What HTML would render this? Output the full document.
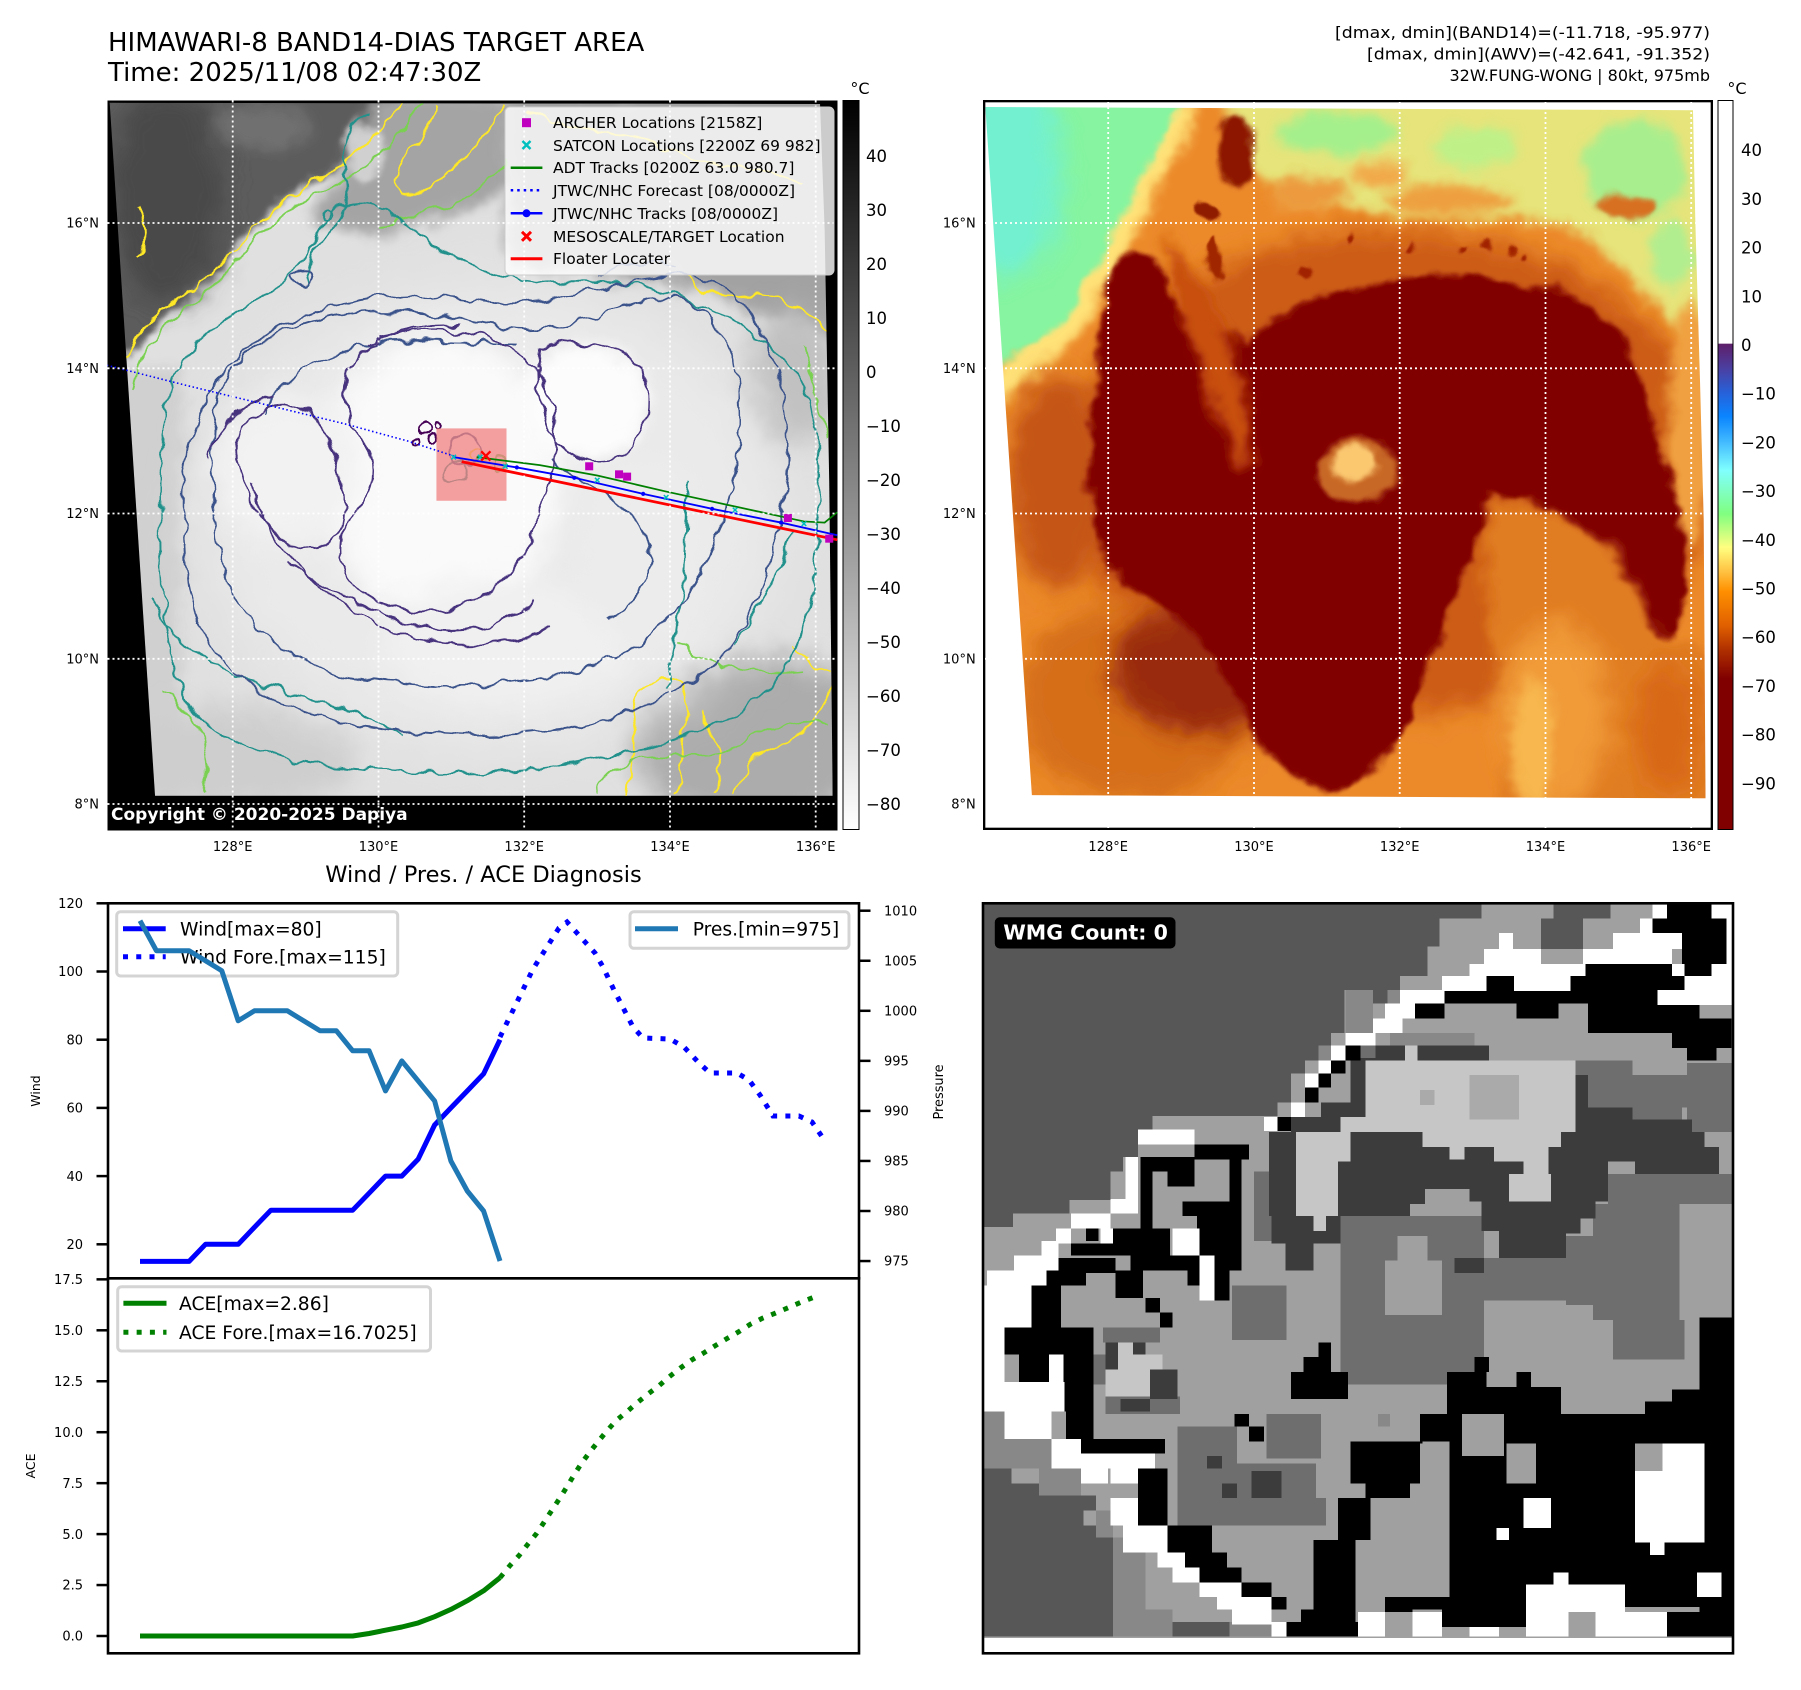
<!DOCTYPE html>
<html><head><meta charset="utf-8">
<style>
html,body{margin:0;padding:0;background:#fff;}
svg{display:block;}
text{font-family:"DejaVu Sans","Liberation Sans",sans-serif;}
</style></head>
<body>
<svg width="1801" height="1690" viewBox="0 0 1801 1690" xmlns="http://www.w3.org/2000/svg">
<defs>
  <linearGradient id="cb1" x1="0" y1="0" x2="0" y2="1">
    <stop offset="0" stop-color="#000"/><stop offset="1" stop-color="#fff"/>
  </linearGradient>
  <linearGradient id="cb2" x1="0" y1="0" x2="0" y2="1">
    <stop offset="0" stop-color="#fff"/>
    <stop offset="0.333" stop-color="#fff"/>
    <stop offset="0.334" stop-color="#5e1f6a"/>
    <stop offset="0.367" stop-color="#4b3fa0"/>
    <stop offset="0.40" stop-color="#2860d8"/>
    <stop offset="0.433" stop-color="#0a84ff"/>
    <stop offset="0.467" stop-color="#40b8ff"/>
    <stop offset="0.507" stop-color="#80ffff"/>
    <stop offset="0.567" stop-color="#80ff80"/>
    <stop offset="0.613" stop-color="#ffff80"/>
    <stop offset="0.647" stop-color="#ffc040"/>
    <stop offset="0.673" stop-color="#ff9000"/>
    <stop offset="0.72" stop-color="#e06000"/>
    <stop offset="0.753" stop-color="#b03000"/>
    <stop offset="0.793" stop-color="#800000"/>
    <stop offset="1" stop-color="#800000"/>
  </linearGradient>
  <filter id="f3" x="-20%" y="-20%" width="140%" height="140%"><feGaussianBlur stdDeviation="3"/></filter>
  <filter id="f6" x="-20%" y="-20%" width="140%" height="140%"><feGaussianBlur stdDeviation="6"/></filter>
  <filter id="f12" x="-30%" y="-30%" width="160%" height="160%"><feGaussianBlur stdDeviation="12"/></filter>
  <filter id="f25" x="-40%" y="-40%" width="180%" height="180%"><feGaussianBlur stdDeviation="25"/></filter>
  <clipPath id="cw"><rect x="108" y="903.3" width="751" height="375"/></clipPath>
  <clipPath id="ca"><rect x="108" y="1278.3" width="751" height="375"/></clipPath>
</defs>

<!-- ===== Titles ===== -->
<text x="108" y="51" font-size="26" fill="#000">HIMAWARI-8 BAND14-DIAS TARGET AREA</text>
<text x="108" y="81" font-size="26" fill="#000">Time: 2025/11/08 02:47:30Z</text>
<text x="1710" y="38" font-size="16" text-anchor="end" textLength="375" lengthAdjust="spacingAndGlyphs">[dmax, dmin](BAND14)=(-11.718, -95.977)</text>
<text x="1710" y="59.5" font-size="16" text-anchor="end" textLength="343" lengthAdjust="spacingAndGlyphs">[dmax, dmin](AWV)=(-42.641, -91.352)</text>
<text x="1710" y="81" font-size="16" text-anchor="end">32W.FUNG-WONG | 80kt, 975mb</text>

<!-- ===== MAP 1 ===== -->
<svg x="107.5" y="100.5" width="730" height="730" viewBox="93.6 87.5 635.6 635.6">
  <defs>
    <clipPath id="m1c"><polygon points="95.5,89.5 714,90.5 718,200 722,420 725,693 135,693"/></clipPath>
    <filter id="wigA" x="-5%" y="-5%" width="110%" height="110%">
      <feTurbulence type="fractalNoise" baseFrequency="0.035" numOctaves="3" seed="4" result="n"/>
      <feDisplacementMap in="SourceGraphic" in2="n" scale="18" xChannelSelector="R" yChannelSelector="G"/>
    </filter>
    <filter id="wigC" x="-5%" y="-5%" width="110%" height="110%">
      <feTurbulence type="fractalNoise" baseFrequency="0.06" numOctaves="2" seed="7" result="n"/>
      <feDisplacementMap in="SourceGraphic" in2="n" scale="12" xChannelSelector="R" yChannelSelector="G"/>
    </filter>
  </defs>
  <rect x="93.6" y="87.5" width="635.6" height="635.6" fill="#000"/>
  <g clip-path="url(#m1c)">
   <g filter="url(#wigA)">
    <rect x="80" y="75" width="660" height="640" fill="#e0e0e0"/>
    <path d="M80,75 L355,75 C338,108 315,128 295,145 C272,162 255,165 240,180 C222,198 205,215 190,235 C170,258 150,272 130,290 C118,302 108,318 80,340 Z" fill="#5c5c5c" filter="url(#f3)"/>
    <ellipse cx="145" cy="170" rx="50" ry="95" fill="#4a4a4a" filter="url(#f12)"/>
    <ellipse cx="230" cy="110" rx="40" ry="20" fill="#707070" filter="url(#f6)"/>
    <path d="M330,80 L445,80 L445,165 C420,178 385,188 352,200 C320,210 292,200 270,188 C290,160 312,130 330,80 Z" fill="#a4a4a4" filter="url(#f6)"/>
    <path d="M440,80 L740,80 L740,300 C700,290 660,270 620,255 C560,245 500,240 445,230 Z" fill="#a2a2a2" filter="url(#f6)"/>
    <ellipse cx="318" cy="132" rx="15" ry="24" fill="#d0d0d0" filter="url(#f3)"/>
    <rect x="100" y="320" width="60" height="380" fill="#d0d0d0" filter="url(#f6)"/>
    <ellipse cx="660" cy="645" rx="110" ry="75" fill="#acacac" filter="url(#f12)"/>
    <ellipse cx="210" cy="660" rx="100" ry="45" fill="#cecece" filter="url(#f12)"/>
    <ellipse cx="690" cy="330" rx="40" ry="60" fill="#c0c0c0" filter="url(#f12)"/>
    <ellipse cx="430" cy="450" rx="250" ry="200" fill="#eaeaea" filter="url(#f25)"/>
    <ellipse cx="385" cy="415" rx="105" ry="125" fill="#fafafa" filter="url(#f12)"/>
    <ellipse cx="510" cy="350" rx="55" ry="50" fill="#fcfcfc" filter="url(#f6)"/>
    <ellipse cx="250" cy="410" rx="65" ry="65" fill="#f2f2f2" filter="url(#f12)"/>
    <ellipse cx="440" cy="560" rx="110" ry="55" fill="#f0f0f0" filter="url(#f12)"/>
    <ellipse cx="560" cy="480" rx="55" ry="85" fill="#ececec" filter="url(#f12)"/>
   </g>
    <g fill="none" stroke-width="1.7" stroke-linejoin="round" filter="url(#wigC)">
      <g stroke="#fde725">
        <path d="M350,90 C340,105 330,115 320,125 C305,140 290,150 275,158 C255,168 240,182 225,195 C208,212 195,228 180,242 C165,255 148,265 135,278 C122,290 112,305 105,320"/>
        <path d="M380,92 C375,110 365,125 355,135 C345,145 340,160 350,168 C365,172 380,160 390,150 C405,135 420,120 430,105 C435,98 438,92 440,90"/>
        <path d="M600,240 C610,255 625,262 640,258 C660,252 680,262 700,270 C712,276 720,290 725,300"/>
        <path d="M545,693 C548,670 556,650 552,630 C548,610 560,595 575,590 C590,588 600,600 598,615 C596,630 590,650 592,670 C594,680 590,690 588,693"/>
        <path d="M640,693 C645,670 660,655 680,648 C700,640 715,620 724,600"/>
        <path d="M100,640 C110,650 115,665 112,693"/>
        <path d="M460,95 C500,120 540,110 580,130 C620,150 660,140 700,160"/>
        <path d="M690,560 C700,575 710,580 722,585"/>
        <path d="M120,180 C130,200 128,215 118,225"/>
        <path d="M610,620 C620,640 630,660 625,690"/>
      </g>
      <g stroke="#7ad151">
        <path d="M365,90 C355,110 340,125 325,138 C305,152 290,165 270,172 C250,182 235,198 220,212 C205,228 190,245 175,258 C160,270 145,282 135,295 C125,308 118,322 115,340"/>
        <path d="M520,693 C525,675 540,665 560,660 C590,655 620,665 640,650 C660,635 690,625 722,630"/>
        <path d="M140,600 C160,610 175,630 180,660 C182,675 178,690 180,693"/>
        <path d="M700,300 C705,330 715,360 722,380"/>
        <path d="M330,200 C350,185 380,185 400,175 C420,165 435,150 440,140"/>
        <path d="M590,560 C620,580 660,590 700,585"/>
      </g>
      <g stroke="#21918c">
        <path d="M150,330 C170,290 210,270 240,250 C270,230 275,200 290,185 C310,170 340,180 360,200 C385,222 420,240 460,244 C500,248 540,240 580,255 C620,270 660,285 690,320 C715,350 715,420 712,470 C708,540 690,590 650,615 C610,640 560,655 500,665 C440,675 370,675 300,668 C240,662 190,650 165,615 C145,585 140,520 140,460 C140,400 140,360 150,330 Z"/>
        <path d="M270,250 C265,230 270,215 285,205 C300,195 305,170 300,150 C295,125 305,105 320,100"/>
        <path d="M600,420 C595,450 598,480 595,510 C592,540 585,570 580,600"/>
        <path d="M282,185 C288,180 292,188 286,192 C280,194 278,188 282,185 Z"/>
        <path d="M130,520 C150,560 190,590 240,600 C280,610 320,620 350,640"/>
        <path d="M640,560 C660,530 680,500 690,460"/>
      </g>
      <g stroke="#3b528b">
        <path d="M190,345 C205,305 240,285 290,275 C340,265 390,275 440,285 C480,292 520,275 560,262 C600,252 630,275 640,320 C650,370 640,430 620,480 C600,530 560,570 500,585 C440,600 370,600 310,590 C260,580 220,555 200,510 C185,470 180,400 190,345 Z"/>
        <path d="M230,360 C250,320 300,300 340,298 C380,296 420,300 450,300"/>
        <path d="M480,400 C500,420 540,430 560,460 C575,490 560,520 530,540"/>
        <path d="M160,460 C155,400 170,340 220,300 C270,260 350,250 420,262 C480,270 540,240 600,240 C650,245 680,300 685,370 C690,440 670,520 630,570 C580,620 500,640 420,640 C340,640 260,630 210,590 C170,560 162,510 160,460 Z"/>
        <path d="M520,240 C540,230 570,225 590,232"/>
        <path d="M255,240 C265,232 275,236 272,246 C268,254 256,250 255,240 Z"/>
      </g>
      <g stroke="#46327e">
        <path d="M300,335 C305,300 345,285 390,288 C430,291 460,305 475,335 C488,365 485,410 470,450 C458,490 430,520 395,530 C360,538 325,528 305,505 C290,485 295,460 310,445 C325,430 330,410 320,390 C305,370 298,355 300,335 Z"/>
        <path d="M205,385 C215,355 245,345 265,358 C285,372 300,405 300,440 C300,470 280,485 258,475 C238,465 222,445 212,420 C207,408 204,395 205,385 Z"/>
        <path d="M470,305 C495,292 530,298 555,318 C572,338 565,380 545,395 C525,408 495,402 482,382 C472,365 465,330 470,305 Z"/>
        <path d="M250,490 C280,510 320,530 360,545 C400,555 440,545 465,525"/>
        <path d="M220,420 C230,470 270,510 320,540 C370,565 430,570 480,545"/>
        <path d="M180,400 C190,370 210,350 240,345"/>
        <path d="M320,300 C340,290 370,282 400,283"/>
      </g>
      <g stroke="#440154">
        <circle cx="368" cy="374" r="5"/><circle cx="376" cy="382" r="4"/><circle cx="362" cy="384" r="3"/>
        <circle cx="380" cy="370" r="3"/>
      </g>
      <circle cx="395" cy="410" r="10" stroke="#21918c"/>
      <circle cx="415" cy="396" r="6" stroke="#fde725"/>
      <circle cx="436" cy="404" r="7" stroke="#5ec962"/>
      <circle cx="405" cy="392" r="13" stroke="#3b528b"/>
    </g>
  </g>
  <rect x="380" y="373" width="61" height="63" fill="#f08080" opacity="0.75"/>
  <polyline points="93,318 160,335 230,352 300,369 355,384 395,397" fill="none" stroke="#0000ff" stroke-width="1.4" stroke-dasharray="1.3 2.2"/>
  <polyline points="415,398 470,405 520,414 580,428 640,441 700,454 718,455 729,446" fill="none" stroke="#008000" stroke-width="1.5"/>
  <polyline points="395,398 450,407 500,416 560,430 620,443 680,455 729,466" fill="none" stroke="#0000ff" stroke-width="1.6"/>
  <g fill="#0000ff"><circle cx="450" cy="407" r="1.8"/><circle cx="500" cy="416" r="1.8"/><circle cx="560" cy="430" r="1.8"/><circle cx="620" cy="443" r="1.8"/><circle cx="680" cy="455" r="1.8"/></g>
  <line x1="402" y1="402" x2="729" y2="470" stroke="#ff0000" stroke-width="2.4"/>
  <g stroke="#00bfbf" stroke-width="1.3">
    <path d="M393,396 l4,4 M397,396 l-4,4 M416,396 l4,4 M420,396 l-4,4 M438,404 l4,4 M442,404 l-4,4 M518,416 l4,4 M522,416 l-4,4 M578,431 l4,4 M582,431 l-4,4 M638,442 l4,4 M642,442 l-4,4 M698,454 l4,4 M702,454 l-4,4"/>
  </g>
  <path d="M419,393 l8,8 M427,393 l-8,8" stroke="#ff0000" stroke-width="2"/>
  <g fill="#bf00bf">
    <rect x="509.5" y="402.5" width="7" height="7"/><rect x="535.5" y="409.5" width="7" height="7"/>
    <rect x="542.5" y="411.5" width="7" height="7"/><rect x="682.5" y="447.5" width="7" height="7"/>
    <rect x="718.5" y="465.5" width="7" height="7"/>
  </g>
</svg>
<g stroke="#fff" stroke-width="1.8" stroke-dasharray="2 3">
  <line x1="232.7" y1="100.5" x2="232.7" y2="830"/><line x1="378.5" y1="100.5" x2="378.5" y2="830"/>
  <line x1="524.2" y1="100.5" x2="524.2" y2="830"/><line x1="670" y1="100.5" x2="670" y2="830"/>
  <line x1="815.7" y1="100.5" x2="815.7" y2="830"/>
  <line x1="107.5" y1="223" x2="837" y2="223"/><line x1="107.5" y1="368.3" x2="837" y2="368.3"/>
  <line x1="107.5" y1="513.5" x2="837" y2="513.5"/><line x1="107.5" y1="658.8" x2="837" y2="658.8"/>
  <line x1="107.5" y1="804" x2="837" y2="804"/>
</g>
<rect x="505" y="107" width="329" height="168" rx="5" fill="#fff" fill-opacity="0.8" stroke="#cccccc" stroke-width="1"/>
<rect x="522" y="118.2" width="9" height="9" fill="#bf00bf"/>
<path d="M522.5,141 l8,8 M530.5,141 l-8,8" stroke="#00bfbf" stroke-width="2.5"/>
<line x1="510.7" y1="167.7" x2="542.4" y2="167.7" stroke="#008000" stroke-width="2.5"/>
<line x1="510.7" y1="190.3" x2="542.4" y2="190.3" stroke="#0000ff" stroke-width="2.5" stroke-dasharray="2.5 4"/>
<line x1="510.7" y1="213.3" x2="542.4" y2="213.3" stroke="#0000ff" stroke-width="2.5"/>
<circle cx="526.5" cy="213.3" r="4" fill="#0000ff"/>
<path d="M522,231.8 l9,9 M531,231.8 l-9,9" stroke="#ff0000" stroke-width="3"/>
<line x1="510.7" y1="258.7" x2="542.4" y2="258.7" stroke="#ff0000" stroke-width="3"/>
<g font-size="15.5" fill="#000">
  <text x="553" y="128.2">ARCHER Locations [2158Z]</text>
  <text x="553" y="150.8">SATCON Locations [2200Z 69 982]</text>
  <text x="553" y="173.2">ADT Tracks [0200Z 63.0 980.7]</text>
  <text x="553" y="195.8">JTWC/NHC Forecast [08/0000Z]</text>
  <text x="553" y="218.8">JTWC/NHC Tracks [08/0000Z]</text>
  <text x="553" y="241.8">MESOSCALE/TARGET Location</text>
  <text x="553" y="264.2">Floater Locater</text>
</g>
<text x="111" y="820" font-size="17" font-weight="bold" fill="#fff">Copyright © 2020-2025 Dapiya</text>

<g font-size="13" fill="#000">
  <text x="99" y="227.5" text-anchor="end">16°N</text>
  <text x="99" y="372.8" text-anchor="end">14°N</text>
  <text x="99" y="518" text-anchor="end">12°N</text>
  <text x="99" y="663.3" text-anchor="end">10°N</text>
  <text x="99" y="808.5" text-anchor="end">8°N</text>
  <text x="232.7" y="851" text-anchor="middle">128°E</text>
  <text x="378.5" y="851" text-anchor="middle">130°E</text>
  <text x="524.2" y="851" text-anchor="middle">132°E</text>
  <text x="670" y="851" text-anchor="middle">134°E</text>
  <text x="815.7" y="851" text-anchor="middle">136°E</text>
  <text x="975.7" y="227.5" text-anchor="end">16°N</text>
  <text x="975.7" y="372.8" text-anchor="end">14°N</text>
  <text x="975.7" y="518" text-anchor="end">12°N</text>
  <text x="975.7" y="663.3" text-anchor="end">10°N</text>
  <text x="975.7" y="808.5" text-anchor="end">8°N</text>
  <text x="1108.2" y="851" text-anchor="middle">128°E</text>
  <text x="1254" y="851" text-anchor="middle">130°E</text>
  <text x="1399.7" y="851" text-anchor="middle">132°E</text>
  <text x="1545.5" y="851" text-anchor="middle">134°E</text>
  <text x="1691.2" y="851" text-anchor="middle">136°E</text>
</g>

<rect x="843" y="100.5" width="16" height="729" fill="url(#cb1)" stroke="#000" stroke-width="1"/>
<text x="860" y="94" font-size="16" text-anchor="middle">°C</text>
<g font-size="16.5" fill="#000">
  <text x="866" y="162">40</text><text x="866" y="216">30</text><text x="866" y="270">20</text>
  <text x="866" y="324">10</text><text x="866" y="378">0</text><text x="866" y="432">−10</text>
  <text x="866" y="486">−20</text><text x="866" y="540">−30</text><text x="866" y="594">−40</text>
  <text x="866" y="648">−50</text><text x="866" y="702">−60</text><text x="866" y="756">−70</text>
  <text x="866" y="810">−80</text>
</g>

<!-- ===== MAP 2 ===== -->
<svg x="983" y="100" width="730" height="730" viewBox="0 0 1568 1568">
  <defs>
    <clipPath id="m2c"><polygon points="5,15 1525,22 1530,260 1540,600 1548,900 1552,1500 105,1493"/></clipPath>
    <filter id="wig2" x="-5%" y="-5%" width="110%" height="110%">
      <feTurbulence type="fractalNoise" baseFrequency="0.014" numOctaves="3" seed="11" result="n"/>
      <feDisplacementMap in="SourceGraphic" in2="n" scale="45" xChannelSelector="R" yChannelSelector="G"/>
    </filter>
  </defs>
  <rect x="0" y="0" width="1568" height="1568" fill="#fff"/>
  <g clip-path="url(#m2c)">
   <g filter="url(#wig2)">
    <rect x="-60" y="-60" width="1690" height="1690" fill="#ec8a2a"/>
    <ellipse cx="880" cy="800" rx="700" ry="520" fill="#cc5c14" filter="url(#f25)"/>
    <!-- top band -->
    <path d="M440,-60 L1620,-60 L1620,650 C1530,560 1500,480 1440,430 C1380,380 1330,300 1250,270 C1150,250 1000,260 900,250 C800,240 700,220 620,200 C580,180 560,100 540,40 Z" fill="#e6e47a" filter="url(#f12)"/>
    <ellipse cx="760" cy="70" rx="130" ry="50" fill="#a4f08c" filter="url(#f12)"/>
    <ellipse cx="1060" cy="100" rx="90" ry="45" fill="#bff088" filter="url(#f12)"/>
    <ellipse cx="1400" cy="150" rx="110" ry="110" fill="#a8ee8e" filter="url(#f12)"/>
    <ellipse cx="1480" cy="330" rx="45" ry="70" fill="#b0ee90" filter="url(#f12)"/>
    <ellipse cx="700" cy="200" rx="90" ry="35" fill="#ec9a3c" filter="url(#f12)"/>
    <ellipse cx="1000" cy="215" rx="140" ry="35" fill="#eea040" filter="url(#f12)"/>
    <ellipse cx="850" cy="160" rx="60" ry="25" fill="#f2a848" filter="url(#f12)"/>
    <ellipse cx="1380" cy="230" rx="60" ry="30" fill="#d87020" filter="url(#f6)"/>
    <!-- right edge orange-yellow -->
    <ellipse cx="1520" cy="700" rx="50" ry="260" fill="#f0a040" filter="url(#f12)"/>
    <!-- green top-left -->
    <path d="M0,640 C80,580 150,520 200,450 C240,380 280,300 320,220 C350,150 400,60 440,0" fill="none" stroke="#ffe278" stroke-width="70" filter="url(#f12)"/>
    <path d="M-60,-60 L445,-60 L445,0 C420,30 390,70 360,130 C330,200 300,250 270,300 C240,360 215,420 170,470 C130,520 80,560 -60,600 Z" fill="#86f4a0" filter="url(#f6)"/>
    <ellipse cx="60" cy="160" rx="110" ry="220" fill="#6ff0d8" opacity="0.85" filter="url(#f25)"/>
    <ellipse cx="545" cy="110" rx="40" ry="75" fill="#8c1800" filter="url(#f6)"/>
    <ellipse cx="478" cy="245" rx="22" ry="22" fill="#901a00" filter="url(#f3)"/>
    <ellipse cx="500" cy="340" rx="15" ry="45" fill="#a02800" filter="url(#f3)"/>
    <g fill="#a02000" filter="url(#f3)">
      <circle cx="790" cy="300" r="10"/><circle cx="920" cy="310" r="9"/><circle cx="1030" cy="315" r="9"/>
      <circle cx="1080" cy="310" r="11"/><circle cx="1130" cy="322" r="9"/><circle cx="1160" cy="340" r="8"/>
      <circle cx="690" cy="370" r="14"/>
    </g>
    <ellipse cx="160" cy="820" rx="110" ry="230" fill="#c45412" filter="url(#f25)"/>
    <ellipse cx="330" cy="1290" rx="260" ry="220" fill="#d06818" opacity="0.8" filter="url(#f25)"/>
    <!-- dark brown bottom-left of core -->
    <ellipse cx="470" cy="1220" rx="190" ry="140" fill="#9a2a08" filter="url(#f25)"/>
    <!-- dark core -->
    <path d="M262,420 C265,360 300,320 340,320 C375,325 395,380 410,440 L560,520 C620,470 700,420 800,400 C900,385 1000,378 1100,385 C1200,395 1290,430 1360,480 C1400,540 1420,620 1440,700 C1470,800 1500,880 1510,960 C1515,1050 1505,1110 1475,1160 C1440,1170 1405,1120 1370,1020 C1330,960 1290,920 1200,880 C1150,860 1110,840 1090,850 C1070,920 1050,1000 1010,1090 C970,1180 940,1260 905,1340 C870,1420 820,1470 740,1480 C670,1465 600,1410 560,1320 C530,1250 500,1190 450,1140 C400,1095 340,1060 280,1010 C245,960 232,880 228,820 C225,740 240,660 250,580 C255,520 258,470 262,420 Z" fill="#800000" filter="url(#f6)"/>
    <path d="M390,280 C440,340 500,430 530,520 C560,610 580,700 570,800 C545,780 520,720 490,640 C460,560 430,470 400,380 Z" fill="#c85010" filter="url(#f12)"/>
    <path d="M1090,860 C1160,870 1250,890 1320,940 C1380,990 1420,1080 1450,1160 L1620,1200 L1620,1620 L1100,1620 C1120,1400 1130,1300 1100,1200 C1075,1100 1070,980 1090,860 Z" fill="#e07c20" filter="url(#f12)"/>
    <ellipse cx="1230" cy="1320" rx="120" ry="200" fill="#f09a38" filter="url(#f25)"/>
    <ellipse cx="1180" cy="1380" rx="45" ry="140" fill="#f8b850" filter="url(#f12)"/>
    <ellipse cx="1470" cy="1350" rx="70" ry="140" fill="#d86818" filter="url(#f25)"/>
    <ellipse cx="805" cy="795" rx="85" ry="70" fill="#c86828" filter="url(#f6)"/>
    <ellipse cx="800" cy="775" rx="50" ry="35" fill="#fbc870" filter="url(#f6)"/>
   </g>
  </g>
  <rect x="2.5" y="2.5" width="1563" height="1563" fill="none" stroke="#000" stroke-width="5"/>
</svg>
<g stroke="#fff" stroke-width="1.8" stroke-dasharray="2 3">
  <line x1="1108.2" y1="102" x2="1108.2" y2="828"/><line x1="1254" y1="102" x2="1254" y2="828"/>
  <line x1="1399.7" y1="102" x2="1399.7" y2="828"/><line x1="1545.5" y1="102" x2="1545.5" y2="828"/>
  <line x1="1691.2" y1="102" x2="1691.2" y2="828"/>
  <line x1="985" y1="223" x2="1710" y2="223"/><line x1="985" y1="368.3" x2="1710" y2="368.3"/>
  <line x1="985" y1="513.5" x2="1710" y2="513.5"/><line x1="985" y1="658.8" x2="1710" y2="658.8"/>
</g>

<rect x="1718" y="100.5" width="15" height="729" fill="url(#cb2)" stroke="#000" stroke-width="1"/>
<text x="1737" y="94" font-size="16" text-anchor="middle">°C</text>
<g font-size="16.5" fill="#000">
  <text x="1741" y="156.2">40</text><text x="1741" y="204.9">30</text><text x="1741" y="253.6">20</text>
  <text x="1741" y="302.3">10</text><text x="1741" y="351">0</text><text x="1741" y="399.7">−10</text>
  <text x="1741" y="448.4">−20</text><text x="1741" y="497.1">−30</text><text x="1741" y="545.8">−40</text>
  <text x="1741" y="594.5">−50</text><text x="1741" y="643.2">−60</text><text x="1741" y="691.9">−70</text>
  <text x="1741" y="740.6">−80</text><text x="1741" y="789.3">−90</text>
</g>

<!-- ===== WIND / PRES / ACE ===== -->
<text x="483.5" y="882" font-size="22.5" text-anchor="middle">Wind / Pres. / ACE Diagnosis</text>
<rect x="108" y="903.3" width="751" height="750" fill="#fff"/>

<g clip-path="url(#cw)">
  <polyline fill="none" stroke="#0000ff" stroke-width="5" stroke-linejoin="round" points="140,1261.4 156.4,1261.4 172.7,1261.4 189.1,1261.4 205.5,1244.3 221.8,1244.3 238.2,1244.3 254.5,1227.2 270.9,1210.2 287.3,1210.2 303.6,1210.2 320,1210.2 336.4,1210.2 352.7,1210.2 369.1,1193.2 385.5,1176.1 401.8,1176.1 418.2,1159.1 434.6,1125 450.9,1107.9 467.3,1090.9 483.6,1073.8 500,1039.7"/>
  <polyline fill="none" stroke="#0000ff" stroke-width="5" stroke-dasharray="5 8.25" points="500,1037 518,1000 533,969 559,928 567,922 577,933 595,953 603,967 614,990 633,1027 643,1038 670,1039 684,1047 699,1063 710,1073 737,1073 749,1080 760,1095 773,1116 799,1116 812,1122 825,1141"/>
</g>
<rect x="116.7" y="911.7" width="281" height="64.3" rx="4" fill="#fff" fill-opacity="0.85" stroke="#d4d4d4" stroke-width="3"/>
<line x1="123" y1="928.7" x2="165.7" y2="928.7" stroke="#0000ff" stroke-width="5"/>
<line x1="123" y1="956.7" x2="165.7" y2="956.7" stroke="#0000ff" stroke-width="5" stroke-dasharray="5 8.25"/>
<text x="180" y="935.4" font-size="18.7">Wind[max=80]</text>
<text x="180" y="963.4" font-size="18.7">Wind Fore.[max=115]</text>
<g clip-path="url(#cw)">
  <polyline fill="none" stroke="#1f77b4" stroke-width="5" stroke-linejoin="round" points="140,920.7 156.4,950.7 172.7,950.7 189.1,950.7 205.5,960.8 221.8,970.8 238.2,1020.8 254.5,1010.8 270.9,1010.8 287.3,1010.8 303.6,1020.8 320,1030.8 336.4,1030.8 352.7,1050.8 369.1,1050.8 385.5,1090.9 401.8,1060.9 418.2,1080.9 434.6,1100.9 450.9,1161 467.3,1191 483.6,1211 500,1261"/>
</g>
<rect x="630" y="911.7" width="219" height="36.6" rx="4" fill="#fff" fill-opacity="0.85" stroke="#d4d4d4" stroke-width="3"/>
<line x1="635" y1="928.7" x2="678" y2="928.7" stroke="#1f77b4" stroke-width="5"/>
<text x="692.7" y="935.4" font-size="18.7">Pres.[min=975]</text>

<g clip-path="url(#ca)">
  <polyline fill="none" stroke="#008000" stroke-width="5" stroke-linejoin="round" points="140,1636 156.4,1636 172.7,1636 189.1,1636 205.5,1636 221.8,1636 238.2,1636 254.5,1636 270.9,1636 287.3,1636 303.6,1636 320,1636 336.4,1636 352.7,1636 369.1,1633.5 385.5,1630.2 401.8,1627 418.2,1622.9 434.6,1616.7 450.9,1609.4 467.3,1600.7 483.6,1590.8 500,1577.7"/>
  <polyline fill="none" stroke="#008000" stroke-width="5" stroke-dasharray="5 8.25" points="500,1577.7 509.8,1565.7 519.5,1555 528,1544 536.7,1533.3 544,1522.3 552,1510 559.7,1498.3 567,1486.7 574,1475 581.5,1463.3 589.6,1452.3 598,1441.7 606.8,1431 616,1420.7 626.9,1411.7 637.2,1402.7 647.5,1394.3 659,1385.7 669.3,1376.7 680,1368.3 691.7,1360 703.2,1353.3 714.7,1346 726.2,1339 738.8,1331.7 750.3,1324.3 762.3,1318.3 775,1313.3 788.2,1307.7 800.8,1302.3 818,1295.6"/>
</g>
<rect x="117.7" y="1286.7" width="312.8" height="64.3" rx="4" fill="#fff" fill-opacity="0.85" stroke="#d4d4d4" stroke-width="3"/>
<line x1="123.4" y1="1303.3" x2="166.5" y2="1303.3" stroke="#008000" stroke-width="5"/>
<line x1="123.4" y1="1332.3" x2="166.5" y2="1332.3" stroke="#008000" stroke-width="5" stroke-dasharray="5 8.25"/>
<text x="179" y="1310" font-size="18.7">ACE[max=2.86]</text>
<text x="179" y="1339" font-size="18.7">ACE Fore.[max=16.7025]</text>

<rect x="108" y="903.3" width="751" height="375" fill="none" stroke="#000" stroke-width="2.6"/>
<rect x="108" y="1278.3" width="751" height="375" fill="none" stroke="#000" stroke-width="2.6"/>
<g stroke="#000" stroke-width="2.5">
  <line x1="96.5" y1="1244.3" x2="108" y2="1244.3"/><line x1="96.5" y1="1176.1" x2="108" y2="1176.1"/>
  <line x1="96.5" y1="1107.9" x2="108" y2="1107.9"/><line x1="96.5" y1="1039.7" x2="108" y2="1039.7"/>
  <line x1="96.5" y1="971.5" x2="108" y2="971.5"/><line x1="96.5" y1="903.3" x2="108" y2="903.3"/>
  <line x1="96.5" y1="1636" x2="108" y2="1636"/><line x1="96.5" y1="1585.05" x2="108" y2="1585.05"/>
  <line x1="96.5" y1="1534.1" x2="108" y2="1534.1"/><line x1="96.5" y1="1483.15" x2="108" y2="1483.15"/>
  <line x1="96.5" y1="1432.2" x2="108" y2="1432.2"/><line x1="96.5" y1="1381.25" x2="108" y2="1381.25"/>
  <line x1="96.5" y1="1330.3" x2="108" y2="1330.3"/><line x1="96.5" y1="1279.35" x2="108" y2="1279.35"/>
  <line x1="859" y1="910.7" x2="870.5" y2="910.7"/><line x1="859" y1="960.75" x2="870.5" y2="960.75"/>
  <line x1="859" y1="1010.8" x2="870.5" y2="1010.8"/><line x1="859" y1="1060.85" x2="870.5" y2="1060.85"/>
  <line x1="859" y1="1110.9" x2="870.5" y2="1110.9"/><line x1="859" y1="1160.95" x2="870.5" y2="1160.95"/>
  <line x1="859" y1="1211" x2="870.5" y2="1211"/><line x1="859" y1="1261.05" x2="870.5" y2="1261.05"/>
</g>
<g font-size="13" fill="#000" text-anchor="end">
  <text x="83" y="1249">20</text><text x="83" y="1180.8">40</text><text x="83" y="1112.6">60</text>
  <text x="83" y="1044.4">80</text><text x="83" y="976.2">100</text><text x="83" y="908">120</text>
  <text x="83" y="1640.7">0.0</text><text x="83" y="1589.7">2.5</text><text x="83" y="1538.8">5.0</text>
  <text x="83" y="1487.8">7.5</text><text x="83" y="1436.9">10.0</text><text x="83" y="1385.9">12.5</text>
  <text x="83" y="1335">15.0</text><text x="83" y="1284">17.5</text>
</g>
<g font-size="13" fill="#000">
  <text x="884" y="915.4">1010</text><text x="884" y="965.4">1005</text><text x="884" y="1015.5">1000</text>
  <text x="884" y="1065.5">995</text><text x="884" y="1115.6">990</text><text x="884" y="1165.6">985</text>
  <text x="884" y="1215.7">980</text><text x="884" y="1265.7">975</text>
</g>
<text transform="translate(40,1091) rotate(-90)" font-size="12.5" text-anchor="middle">Wind</text>
<text transform="translate(943,1092) rotate(-90)" font-size="12.9" text-anchor="middle">Pressure</text>
<text transform="translate(35,1466) rotate(-90)" font-size="12.5" text-anchor="middle">ACE</text>

<!-- ===== WMG panel ===== -->
<svg x="983" y="903" width="750" height="750" viewBox="17 17 1516 1516" shape-rendering="crispEdges">
  <rect x="17" y="17" width="1516" height="1516" fill="#a0a0a0"/>
  <g fill="#575757">
    <polygon points="17,17 1025,17 1025,48 940,48 940,105 915,105 915,165 860,165 860,193 748,193 748,280 720,280 720,305 695,305 695,335 668,335 668,362 640,362 640,420 612,420 612,448 360,448 360,475 330,475 330,530 300,530 300,560 275,560 275,617 192,617 192,645 78,645 78,672 17,672"/>
    <polygon points="17,1160 75,1160 75,1190 130,1190 130,1215 245,1215 245,1245 220,1245 220,1275 250,1275 250,1300 280,1300 280,1445 345,1445 345,1500 17,1500"/>
    <rect x="400" y="1470" width="115" height="30"/>
    <rect x="1170" y="17" width="115" height="31"/>
    <rect x="1145" y="48" width="85" height="62"/>
    <rect x="805" y="193" width="30" height="27"/>
  </g>
  <g fill="#888888">
    <rect x="750" y="193" width="55" height="87"/><rect x="835" y="193" width="25" height="27"/>
    <rect x="840" y="280" width="170" height="30"/><rect x="695" y="305" width="25" height="30"/>
    <rect x="17" y="1045" width="43" height="115"/><rect x="60" y="1100" width="95" height="60"/>
    <rect x="130" y="1130" width="85" height="85"/><rect x="245" y="1245" width="35" height="55"/>
    <rect x="280" y="1300" width="65" height="145"/><rect x="280" y="1445" width="120" height="55"/>
    <rect x="515" y="1470" width="85" height="30"/><rect x="815" y="1050" width="25" height="25"/>
    <rect x="345" y="1445" width="55" height="25"/>
  </g>
  <g fill="#6e6e6e">
    <rect x="1130" y="335" width="200" height="30"/><rect x="1240" y="365" width="200" height="65"/>
    <rect x="1330" y="430" width="100" height="25"/><rect x="1440" y="340" width="93" height="140"/>
    <rect x="1275" y="510" width="60" height="30"/><rect x="1250" y="540" width="30" height="25"/>
    <rect x="1280" y="565" width="253" height="60"/><rect x="1250" y="625" width="175" height="235"/>
    <rect x="1195" y="690" width="55" height="140"/><rect x="1290" y="860" width="145" height="80"/>
    <rect x="1025" y="735" width="170" height="85"/><rect x="740" y="650" width="290" height="340"/>
    <rect x="520" y="790" width="110" height="110"/><rect x="565" y="560" width="35" height="140"/>
    <rect x="260" y="875" width="115" height="30"/><rect x="240" y="930" width="25" height="60"/>
    <rect x="265" y="1015" width="150" height="35"/><rect x="410" y="1075" width="120" height="80"/>
    <rect x="410" y="1150" width="300" height="125"/><rect x="590" y="1050" width="110" height="90"/>
    <rect x="780" y="305" width="30" height="30"/>
  </g>
  <g fill="#a0a0a0">
    <rect x="830" y="740" width="115" height="110"/><rect x="855" y="690" width="60" height="50"/>
    <rect x="690" y="1140" width="20" height="80"/>
  </g>
  <g fill="#3c3c3c">
    <polygon points="595,480 640,480 640,450 700,450 700,420 760,420 760,330 870,330 870,310 1040,310 1040,340 1130,340 1130,365 1240,365 1240,430 1330,430 1330,455 1420,455 1420,480 1475,480 1475,510 1505,510 1505,565 1395,565 1395,540 1280,540 1280,620 1255,620 1255,655 1225,655 1225,685 1195,685 1195,735 1060,735 1060,680 1025,680 1025,620 1000,620 1000,595 910,595 910,625 880,625 880,650 740,650 740,705 685,705 685,760 628,760 628,705 600,705 600,650 595,650"/>
    <rect x="810" y="305" width="60" height="30"/><rect x="895" y="305" width="145" height="30"/>
    <rect x="1415" y="455" width="35" height="25"/><rect x="1335" y="510" width="170" height="55"/>
    <rect x="970" y="735" width="60" height="30"/><rect x="265" y="905" width="25" height="55"/>
    <rect x="320" y="905" width="25" height="25"/><rect x="355" y="960" width="55" height="60"/>
    <rect x="295" y="1020" width="60" height="25"/><rect x="470" y="1135" width="30" height="25"/>
    <rect x="560" y="1165" width="60" height="55"/><rect x="500" y="1190" width="30" height="30"/>
  </g>
  <g fill="#c6c6c6">
    <rect x="790" y="335" width="140" height="145"/><rect x="930" y="335" width="285" height="145"/>
    <rect x="905" y="480" width="280" height="30"/><rect x="960" y="510" width="30" height="25"/>
    <rect x="1050" y="510" width="110" height="30"/><rect x="1110" y="540" width="50" height="25"/>
    <rect x="1080" y="565" width="85" height="55"/><rect x="740" y="450" width="50" height="30"/>
    <rect x="650" y="480" width="110" height="60"/><rect x="650" y="540" width="85" height="110"/>
    <rect x="685" y="650" width="25" height="30"/><rect x="870" y="305" width="25" height="30"/>
    <rect x="290" y="905" width="30" height="55"/><rect x="265" y="960" width="90" height="55"/>
    <rect x="320" y="930" width="60" height="30"/>
  </g>
  <g fill="#aaaaaa">
    <rect x="1000" y="365" width="100" height="90"/><rect x="900" y="395" width="30" height="30"/>
  </g>
  <g fill="#000">
    <rect x="1400" y="17" width="90" height="31"/><rect x="1370" y="48" width="60" height="62"/>
    <rect x="1430" y="48" width="90" height="92"/><rect x="1235" y="140" width="175" height="25"/>
    <rect x="1435" y="140" width="55" height="25"/><rect x="1035" y="165" width="55" height="30"/>
    <rect x="1205" y="165" width="230" height="30"/><rect x="950" y="193" width="430" height="27"/>
    <rect x="890" y="220" width="60" height="30"/><rect x="1095" y="220" width="85" height="30"/>
    <rect x="1240" y="220" width="225" height="60"/><rect x="1300" y="250" width="110" height="30"/>
    <rect x="1410" y="250" width="120" height="60"/><rect x="1440" y="280" width="60" height="55"/>
    <rect x="750" y="305" width="30" height="30"/>
    <rect x="720" y="335" width="30" height="27"/><rect x="695" y="362" width="25" height="28"/>
    <rect x="668" y="390" width="27" height="30"/><rect x="612" y="450" width="28" height="28"/>
    <rect x="445" y="505" width="110" height="30"/><rect x="335" y="530" width="110" height="30"/>
    <rect x="390" y="560" width="55" height="30"/><rect x="335" y="560" width="25" height="120"/>
    <rect x="515" y="535" width="25" height="115"/><rect x="420" y="620" width="120" height="30"/>
    <rect x="450" y="650" width="90" height="110"/><rect x="485" y="760" width="30" height="60"/>
    <rect x="225" y="675" width="25" height="25"/><rect x="280" y="675" width="115" height="30"/>
    <rect x="195" y="705" width="200" height="25"/><rect x="315" y="730" width="140" height="30"/>
    <rect x="170" y="735" width="115" height="30"/><rect x="285" y="760" width="55" height="55"/>
    <rect x="430" y="760" width="30" height="30"/><rect x="145" y="760" width="80" height="30"/>
    <rect x="115" y="790" width="60" height="85"/><rect x="60" y="875" width="180" height="55"/>
    <rect x="90" y="930" width="60" height="55"/><rect x="180" y="930" width="60" height="115"/>
    <rect x="185" y="1045" width="55" height="55"/><rect x="185" y="1100" width="25" height="30"/>
    <rect x="215" y="1100" width="170" height="30"/><rect x="330" y="1160" width="60" height="115"/>
    <rect x="390" y="1275" width="90" height="55"/><rect x="425" y="1330" width="85" height="30"/>
    <rect x="455" y="1360" width="85" height="30"/><rect x="540" y="1390" width="60" height="30"/>
    <rect x="600" y="1420" width="30" height="25"/><rect x="345" y="815" width="30" height="30"/>
    <rect x="375" y="845" width="25" height="30"/>
    <rect x="695" y="905" width="25" height="30"/><rect x="665" y="935" width="55" height="30"/>
    <rect x="640" y="965" width="115" height="55"/><rect x="525" y="1050" width="30" height="25"/>
    <rect x="555" y="1075" width="30" height="30"/>
    <rect x="955" y="965" width="80" height="30"/><rect x="1010" y="935" width="30" height="30"/>
    <rect x="955" y="995" width="230" height="65"/><rect x="1095" y="965" width="30" height="30"/>
    <rect x="900" y="1050" width="90" height="60"/><rect x="1070" y="1050" width="290" height="60"/>
    <rect x="1355" y="1025" width="110" height="85"/><rect x="1410" y="1000" width="60" height="30"/>
    <rect x="1465" y="855" width="68" height="645"/><rect x="760" y="1105" width="140" height="85"/>
    <rect x="790" y="1190" width="90" height="30"/><rect x="960" y="1110" width="115" height="330"/>
    <rect x="1075" y="1190" width="390" height="250"/><rect x="1135" y="1110" width="200" height="80"/>
    <rect x="1000" y="1440" width="115" height="40"/><rect x="1400" y="1450" width="90" height="50"/>
    <rect x="735" y="1220" width="65" height="85"/><rect x="685" y="1305" width="85" height="165"/>
    <rect x="630" y="1470" width="145" height="30"/><rect x="660" y="1445" width="55" height="25"/>
    <rect x="830" y="1420" width="55" height="30"/><rect x="885" y="1420" width="115" height="25"/>
    <rect x="945" y="1440" width="55" height="40"/>
  </g>
  <g fill="#a0a0a0">
    <rect x="985" y="1050" width="85" height="85"/><rect x="1075" y="1115" width="60" height="75"/>
    <rect x="905" y="1105" width="55" height="115"/>
  </g>
  <g fill="#fff">
    <rect x="1370" y="17" width="30" height="31"/><rect x="1490" y="17" width="43" height="31"/>
    <rect x="1345" y="48" width="25" height="30"/><rect x="1520" y="48" width="13" height="145"/>
    <rect x="1060" y="78" width="28" height="32"/><rect x="1290" y="78" width="140" height="32"/>
    <rect x="1030" y="110" width="115" height="55"/><rect x="1230" y="110" width="180" height="30"/>
    <rect x="1000" y="140" width="235" height="25"/><rect x="1410" y="140" width="25" height="25"/>
    <rect x="1490" y="140" width="43" height="55"/><rect x="945" y="165" width="90" height="30"/>
    <rect x="1090" y="165" width="115" height="30"/><rect x="1435" y="165" width="55" height="30"/>
    <rect x="860" y="193" width="90" height="27"/><rect x="1380" y="193" width="153" height="30"/>
    <rect x="830" y="220" width="60" height="30"/><rect x="805" y="250" width="60" height="30"/>
    <rect x="750" y="280" width="60" height="25"/><rect x="720" y="305" width="30" height="30"/>
    <rect x="695" y="335" width="25" height="27"/><rect x="668" y="362" width="27" height="28"/>
    <rect x="640" y="420" width="28" height="30"/><rect x="585" y="450" width="27" height="28"/>
    <rect x="330" y="475" width="115" height="30"/><rect x="305" y="530" width="25" height="85"/>
    <rect x="275" y="615" width="55" height="30"/><rect x="195" y="645" width="80" height="30"/>
    <rect x="165" y="675" width="30" height="30"/><rect x="255" y="675" width="25" height="30"/>
    <rect x="135" y="700" width="35" height="35"/><rect x="80" y="730" width="90" height="30"/>
    <rect x="25" y="760" width="120" height="30"/><rect x="17" y="790" width="98" height="85"/>
    <rect x="17" y="875" width="43" height="110"/><rect x="150" y="930" width="30" height="55"/>
    <rect x="17" y="985" width="165" height="60"/><rect x="60" y="1045" width="95" height="55"/>
    <rect x="155" y="1100" width="60" height="60"/><rect x="215" y="1130" width="150" height="30"/>
    <rect x="215" y="1160" width="55" height="30"/><rect x="275" y="1160" width="55" height="30"/>
    <rect x="275" y="1220" width="55" height="55"/><rect x="300" y="1275" width="90" height="55"/>
    <rect x="370" y="1330" width="55" height="30"/><rect x="400" y="1360" width="55" height="30"/>
    <rect x="455" y="1390" width="85" height="30"/><rect x="490" y="1420" width="110" height="25"/>
    <rect x="520" y="1445" width="80" height="30"/><rect x="600" y="1470" width="30" height="30"/>
    <rect x="400" y="675" width="55" height="55"/><rect x="455" y="730" width="30" height="90"/>
    <rect x="1390" y="1110" width="85" height="55"/><rect x="1335" y="1165" width="140" height="145"/>
    <rect x="1365" y="1310" width="30" height="25"/><rect x="1110" y="1220" width="55" height="60"/>
    <rect x="1055" y="1280" width="25" height="25"/><rect x="1460" y="1370" width="50" height="50"/>
    <rect x="1170" y="1370" width="30" height="30"/><rect x="1115" y="1395" width="200" height="105"/>
    <rect x="1315" y="1450" width="85" height="50"/>
    <rect x="775" y="1450" width="55" height="50"/><rect x="885" y="1450" width="60" height="50"/>
    <rect x="1000" y="1480" width="60" height="20"/>
    <rect x="17" y="1503" width="1516" height="30"/>
  </g>
  <rect x="1200" y="1450" width="55" height="50" fill="#a0a0a0"/>
</svg>
<rect x="983" y="903.3" width="750" height="750" fill="none" stroke="#000" stroke-width="2.6"/>
<rect x="994.8" y="917.3" width="180.7" height="31.2" rx="5" fill="#000"/>
<text x="1003.2" y="939.6" font-size="20.5" font-weight="bold" fill="#fff">WMG Count: 0</text>
</svg>
</body></html>
